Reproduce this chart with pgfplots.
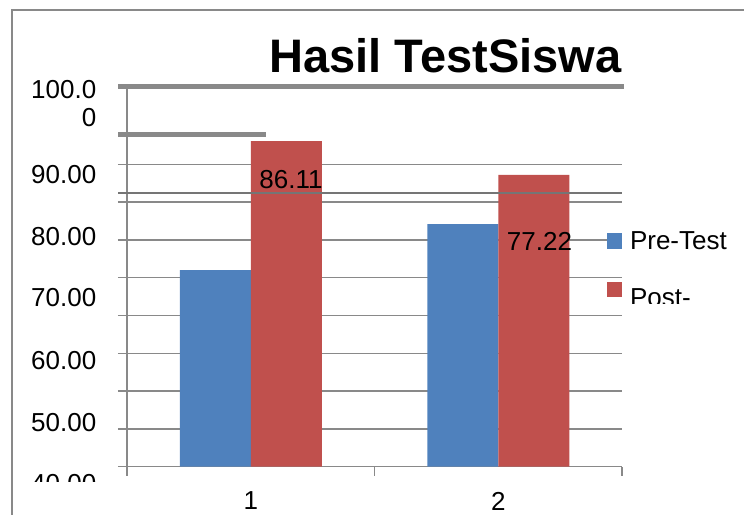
\documentclass[border=0pt]{standalone}
\usepackage{pgfplots}
\pgfplotsset{compat=1.18}
\usepackage{fontspec}
\setmainfont{Liberation Sans}
\definecolor{preblue}{RGB}{79,129,189}
\definecolor{postred}{RGB}{192,80,77}
\definecolor{gridgray}{RGB}{137,137,137}
\begin{document}
\begin{tikzpicture}
\useasboundingbox (0bp,0bp) rectangle (744bp,515bp);
\fill[gridgray] (11.25bp,0bp) rectangle (12.75bp,505.75bp);
\fill[gridgray] (11.25bp,504.25bp) rectangle (744bp,505.75bp);
\begin{axis}[
  at={(127bp,48.3bp)}, anchor=south west,
  x=247.5bp, y=3.78bp,
  xmin=0.5, xmax=2.5, ymin=0, ymax=100.7,
  clip=false,
  axis x line=bottom, axis y line=left,
  axis line style={gridgray, line width=1.5bp, -},
  tick align=outside, major tick length=9bp,
  tick style={gridgray, line width=1.5bp},
  xtick={0.5,1.5,2.5}, xticklabels={},
  extra x ticks={1,2}, extra x tick labels={1,2},
  extra x tick style={major tick length=0pt},
  ytick={0,10,20,30,40,50,60,70,80}, yticklabels={},
  ymajorgrids, grid style={gridgray, line width=1.5bp},
  extra y ticks={11.7,28.0,44.8,60.8,77.4,96.2},
  extra y tick labels={50.00,60.00,70.00,80.00,90.00,{100.0\\0}},
  extra y tick style={major tick length=0pt, grid=none},
  yticklabel style={anchor=east, inner sep=0pt, xshift=-30.5bp, align=right},
  xticklabel style={anchor=north, inner sep=0pt, yshift=-25bp},
  font=\fontsize{26bp}{28bp}\selectfont,
  ybar=0pt, bar width=71bp,
  title={Hasil TestSiswa},
  title style={font=\fontsize{47bp}{56bp}\selectfont\bfseries, at={(0.6434,1)}, anchor=base, yshift=8bp, inner sep=0pt},
  legend style={draw=none, fill=none, inner sep=0pt, outer sep=0pt,
    at={(0.9697,0.6174)}, anchor=north west, row sep=31.2bp,
    nodes={inner sep=0pt, font=\fontsize{26bp}{28bp}\selectfont},
    /tikz/every odd column/.append style={column sep=8bp}},
  legend cell align=left,
]
\addplot[fill=preblue, draw=none,
  legend image code/.code={\fill[preblue] (0bp,-7.5bp) rectangle (15bp,7.9bp);}]
  coordinates {(1,52.0) (2,64.2)};
\addplot[fill=postred, draw=none,
  legend image code/.code={\fill[postred] (0bp,1.1bp) rectangle (15bp,16.1bp);}]
  coordinates {(1,86.11) (2,77.22)};
\legend{Pre-Test, Post-}
\draw[gridgray!85!black, line width=2bp] ([xshift=-9bp]axis cs:0.5,72.4) -- (axis cs:2.5,72.4);
\draw[gridgray, line width=5bp] ([xshift=-9bp]axis cs:0.5,100.7) -- ([xshift=2bp]axis cs:2.5,100.7);
\draw[gridgray, line width=5bp] ([xshift=-9bp]axis cs:0.5,87.8) -- (axis cs:1.0616,87.8);
\node[inner sep=0pt] at (axis cs:1.1626,75.85) {86.11};
\node[inner sep=0pt] at (axis cs:2.1667,59.5) {77.22};
\end{axis}
\node[anchor=east, inner sep=0pt, font=\fontsize{26bp}{28bp}\selectfont] at (96.5bp,31bp) {40.00};
\fill[white] (20bp,10bp) rectangle (112bp,33bp);
\fill[white] (626bp,195bp) rectangle (720bp,211bp);
\end{tikzpicture}
\end{document}
